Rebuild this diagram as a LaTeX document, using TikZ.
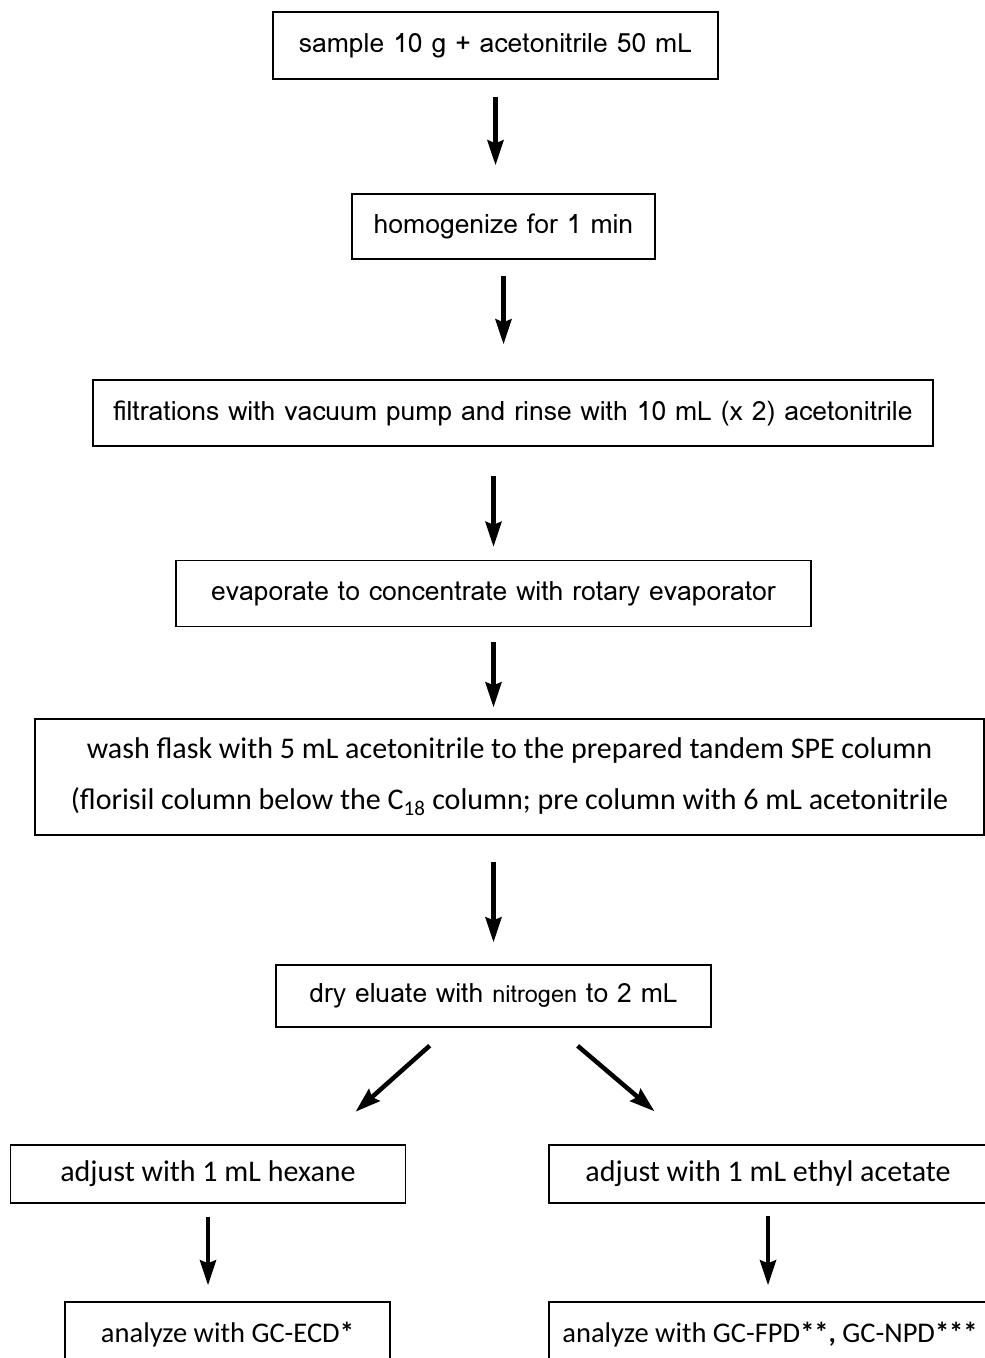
\documentclass[tikz,border=0pt]{standalone}
\usepackage{fontspec}
\usetikzlibrary{arrows.meta,calc}
\newfontfamily\wideft{Loma}
\newfontfamily\narrowft{Carlito}

\begin{document}
\begin{tikzpicture}[x=1pt, y=-1pt,
		stepbox/.style={draw, line width=1.4pt, rectangle, inner sep=0pt, font=\wideft\fontsize{26.5}{30}\selectfont},
		narrowbox/.style={stepbox, font=\narrowft\fontsize{30}{51}\selectfont},
		endbox/.style={stepbox, font=\narrowft\fontsize{28.5}{30}\selectfont},
		arr/.style={line width=4.5pt, -{Stealth[length=25pt, width=16pt, inset=3pt]}}]
			\useasboundingbox (0, 0) rectangle (985, 1358);
			\clip (0, 0) rectangle (985, 1358);
			\draw (495.5, 45.5) 	node[stepbox, minimum width=445, minimum height=67] 	(sample) 	{sample 10 g + acetonitrile 50 mL};
			\draw (503.5, 226.5) 	node[stepbox, minimum width=303, minimum height=65] 	(homog) 	{homogenize for 1 min};
			\draw (513, 413) 		node[stepbox, minimum width=840, minimum height=66] 	(filt) 		{filtrations with vacuum pump and rinse with 10 mL (x 2) acetonitrile};
			\draw (493.5, 593.5) 	node[stepbox, minimum width=635, minimum height=66] 	(evap) 		{evaporate to concentrate with rotary evaporator};
			\draw (509.5, 777) 		node[narrowbox, minimum width=949, minimum height=116, align=center] 	(wash) 	{wash flask with 5 mL acetonitrile to the prepared tandem SPE column\\(florisil column below the C\textsubscript{18} column; pre column with 6 mL acetonitrile};
			\draw (493.5, 996) 		node[stepbox, minimum width=435, minimum height=62] 	(dry) 		{dry eluate with {\fontsize{23.5}{30}\selectfont nitrogen} to 2 mL};
			\draw (208, 1174) 		node[narrowbox, minimum width=395, minimum height=58] 	(hexane) 	{adjust with 1 mL hexane};
			\draw (768, 1174) 		node[narrowbox, minimum width=438, minimum height=58] 	(ethyl) 	{adjust with 1 mL ethyl acetate};
			\draw (227.5, 1335) 	node[endbox, minimum width=325, minimum height=66] 	(ecd) 		{analyze with GC-ECD\textbf{*}};
			\draw (770, 1335) 		node[endbox, minimum width=442, minimum height=66] 	(npd) 		{analyze with GC-FPD\textbf{**,} GC-NPD\textbf{***}};

			\draw[arr, shorten <=17, shorten >=28] (sample.south) -- (sample.south |- homog.north);
			\draw[arr, shorten <=16, shorten >=35] (homog.south) -- (homog.south |- filt.north);
			\draw[arr, shorten <=29, shorten >=13] (evap.north |- filt.south) -- (evap.north);
			\draw[arr, shorten <=15, shorten >=11] (evap.south) -- (evap.south |- wash.north);
			\draw[arr, shorten <=26, shorten >=22] (dry.north |- wash.south) -- (dry.north);
			\draw[arr, shorten <=27, shorten >=49] ($(dry.south west)!0.4!(dry.south east)$) -- ($(hexane.north west)!0.78!(hexane.north east)$);
			\draw[arr, shorten <=28, shorten >=51] ($(dry.south west)!0.644!(dry.south east)$) -- ($(ethyl.north west)!0.33!(ethyl.north east)$);
			\draw[arr, shorten <=13, shorten >=16] (hexane.south) -- (hexane.south |- ecd.north);
			\draw[arr, shorten <=12, shorten >=16] (ethyl.south) -- (ethyl.south |- npd.north);
		\end{tikzpicture}
\end{document}
